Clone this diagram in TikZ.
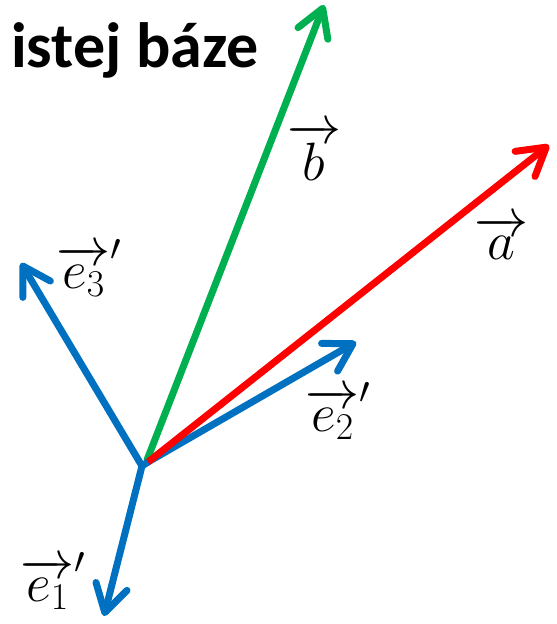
\RequirePackage{fix-cm}
\documentclass[tikz,border=0pt]{standalone}
\usepackage{fontspec}
\newfontfamily\titlefont{Carlito}
\usetikzlibrary{arrows.meta}
\definecolor{vblue}{RGB}{0,112,192}
\definecolor{vred}{RGB}{255,0,0}
\definecolor{vgreen}{RGB}{0,176,80}
\tikzset{
  vec/.style={line width=7pt, line cap=round, -{Straight Barb[length=27pt,width=32pt,round]}},
  lbl/.style={inner sep=0pt, font=\fontsize{54}{60}\selectfont}
}
\begin{document}
\begin{tikzpicture}[x=1pt,y=-1pt]
\useasboundingbox (0,0) rectangle (557,624);
\node[anchor=base west, inner sep=0pt, font=\titlefont\bfseries\fontsize{64}{70}\selectfont] (title) at (11,67) {istej báze};
\coordinate (O1) at (142,466);
\coordinate (O2) at (148,462);
\coordinate (O3) at (147,460);
\coordinate (E1) at (104,616);
\coordinate (E2) at (356,342);
\coordinate (E3) at (21,263);
\coordinate (A) at (549,145);
\coordinate (B) at (324,5);
\draw[vec, vgreen] (O3) -- (B);
\draw[vec, vblue] (O2) -- (E2);
\draw[vec, vred] (O2) -- (A);
\draw[vec, vblue] (O1) -- (E3);
\draw[vec, vblue] (O1) -- (E1);
\draw[line width=7pt, vblue] (O1) -- (O2);
\node[lbl] (lb) at (314,152) {$\overrightarrow{b}$};
\node[lbl] (la) at (501,238) {$\overrightarrow{a}$};
\node[lbl] (le3) at (89,268) {$\overrightarrow{e_3}'$};
\node[lbl] (le2) at (338,411) {$\overrightarrow{e_2}'$};
\node[lbl] (le1) at (53,581) {$\overrightarrow{e_1}'$};
\end{tikzpicture}
\end{document}
